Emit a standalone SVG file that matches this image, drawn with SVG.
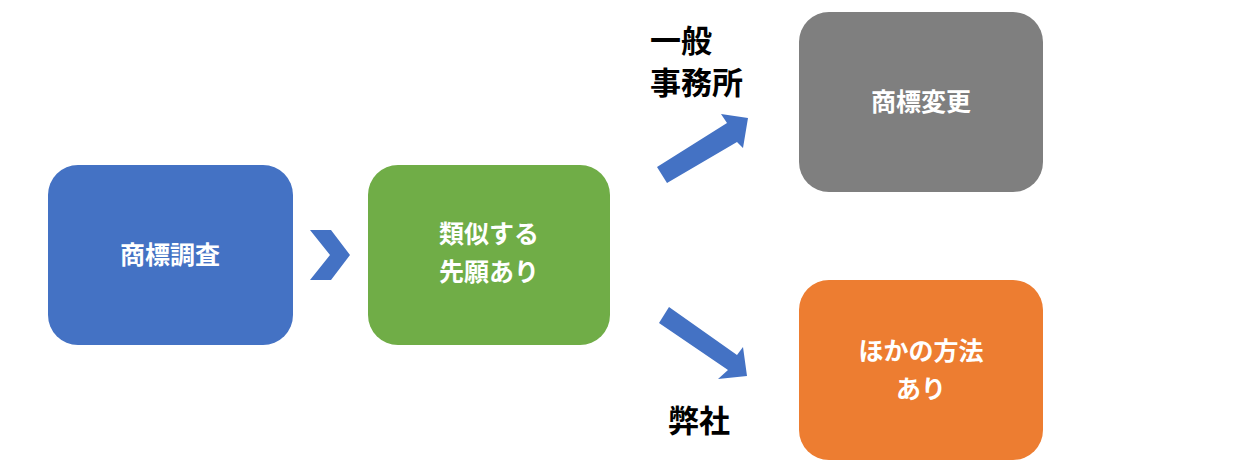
<svg xmlns="http://www.w3.org/2000/svg" width="1254" height="473" viewBox="0 0 1254 473">
<style>
.t{font-family:"Noto Sans CJK JP",sans-serif;font-weight:bold;font-size:25px;fill:#fff;text-anchor:middle}
.l{font-family:"Noto Sans CJK JP",sans-serif;font-weight:bold;font-size:31px;fill:#000}
.a{fill:#4472C4}
</style>
<rect width="1254" height="473" fill="#fff"/>
<g id="n1"><rect x="48" y="165" width="245" height="180" rx="30" fill="#4472C4"/><text class="t" x="170" y="264">商標調査</text></g>
<g id="n2"><rect x="368" y="165" width="242" height="180" rx="30" fill="#70AD47"/><text class="t" x="489" y="243">類似する</text><text class="t" x="489" y="281">先願あり</text></g>
<g id="n3"><rect x="799" y="12" width="244" height="180" rx="30" fill="#7F7F7F"/><text class="t" x="921" y="111">商標変更</text></g>
<g id="n4"><rect x="799" y="280" width="244" height="180" rx="30" fill="#ED7D31"/><text class="t" x="921" y="360">ほかの方法</text><text class="t" x="921" y="398">あり</text></g>
<g id="connectors">
<polygon class="a" points="310,230 331,230 350,255 331,280 310,280 330,255"/>
<polygon class="a" points="657,167 727,123 721,114 748,118 743,148 737,142 667,183"/>
<polygon class="a" points="669,307 737,355 743,347 747,376 718,379 728,370 659,323"/>
</g>
<text class="l" x="650" y="52">一般</text>
<text class="l" x="650" y="94">事務所</text>
<text class="l" x="668" y="432">弊社</text>
</svg>
